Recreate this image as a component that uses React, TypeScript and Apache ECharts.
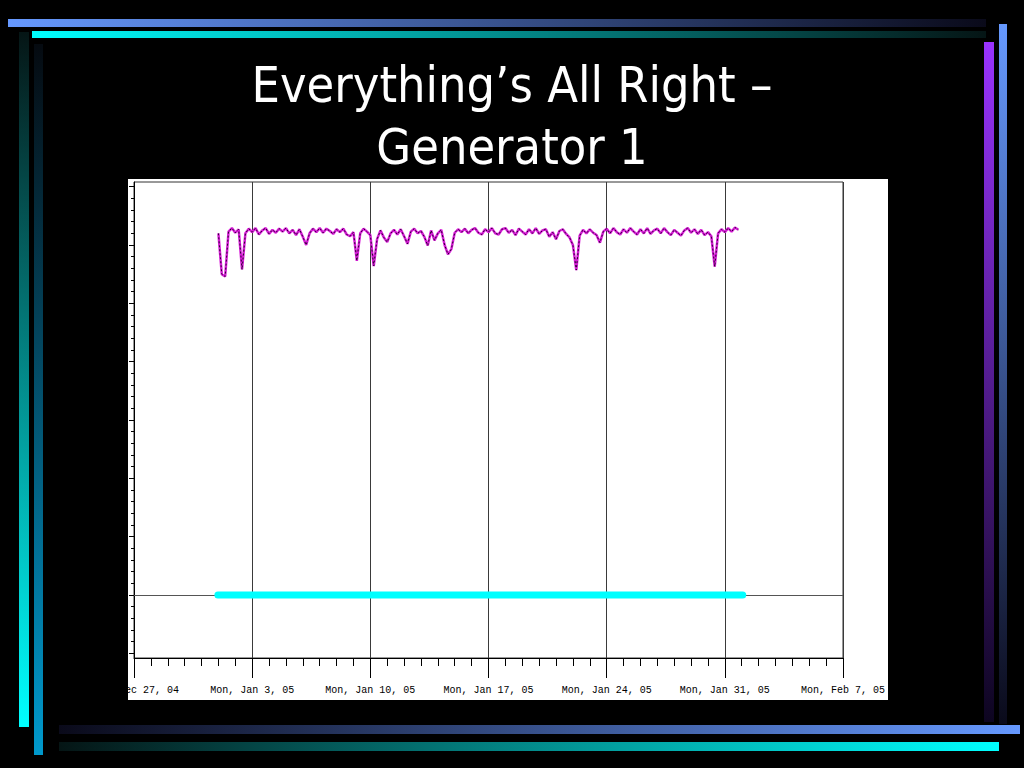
import React, { useEffect, useRef } from "react";
import * as echarts from "echarts";

// ---- data ----
const titleLines = ["Everything\u2019s All Right \u2013", "Generator 1"];
const weekLabels = [
  "Mon, Dec 27, 04",
  "Mon, Jan 3, 05",
  "Mon, Jan 10, 05",
  "Mon, Jan 17, 05",
  "Mon, Jan 24, 05",
  "Mon, Jan 31, 05",
  "Mon, Feb 7, 05",
];
// days since Mon Dec 27, 04
const genStartDay = 5.0;
const genStepDay = 0.2;
const genValues = [
  62.0, 55.0, 54.6, 62.3, 62.9, 62.1, 62.7, 55.8, 62.0, 62.8,
  62.2, 62.9, 61.8, 62.5, 62.9, 61.9, 62.6, 62.1, 62.8, 62.3,
  62.9, 62.0, 62.6, 61.7, 62.7, 61.4, 60.0, 62.0, 62.8, 62.2,
  62.9, 62.1, 62.8, 62.4, 61.9, 62.7, 62.2, 62.8, 61.8, 61.5,
  62.2, 57.3, 62.0, 62.8, 62.3, 61.7, 56.4, 61.0, 62.5, 61.3,
  60.5, 62.0, 62.6, 61.8, 62.7, 61.5, 60.2, 62.3, 62.8, 62.0,
  62.4, 61.4, 59.9, 62.5, 60.8, 62.0, 62.6, 60.0, 58.4, 59.3,
  62.1, 62.7, 62.2, 62.8, 62.0, 62.6, 62.9, 62.1, 61.8, 62.7,
  62.2, 62.9, 62.0, 61.8, 62.7, 62.9, 62.1, 62.6, 61.7, 62.8,
  62.3, 61.8, 62.7, 62.0, 62.9, 61.9, 62.5, 62.7, 61.4, 62.2,
  61.0, 62.4, 62.7, 61.9, 61.3, 60.0, 55.7, 61.6, 62.6, 62.0,
  62.7, 62.1, 61.7, 60.4, 62.3, 62.8, 62.0, 62.9, 62.2, 61.8,
  62.7, 62.1, 62.9, 62.3, 61.8, 62.7, 62.0, 62.9, 61.9, 62.5,
  62.8, 62.0, 62.9, 62.2, 61.7, 62.6, 62.1, 61.6, 62.5, 62.9,
  62.1, 62.7, 61.9, 62.6, 61.7, 62.2, 61.5, 56.3, 62.0, 62.7,
  62.2, 62.9, 62.3, 63.0, 62.6,
];
const baseDays = [4.97, 36.06];
const baseValues = [0, 0];

const xMin = 0;
const xMax = 42;
const xWeek = 7;

function bar(x: number, y: number, w: number, h: number, horiz: boolean, c0: string, c1: string) {
  return {
    type: "rect",
    shape: { x, y, width: w, height: h },
    style: {
      fill: new echarts.graphic.LinearGradient(0, 0, horiz ? 1 : 0, horiz ? 0 : 1, [
        { offset: 0, color: c0 },
        { offset: 1, color: c1 },
      ]),
    },
    silent: true,
    z: 0,
  };
}

export default function App() {
  const ref = useRef<HTMLDivElement>(null);
  useEffect(() => {
    if (!ref.current) return;
    const chart = echarts.init(ref.current, null, { renderer: "svg" });
    const genData = genValues.map((v, i) => [genStartDay + i * genStepDay, v]);
    const baseData = baseDays.map((d, i) => [d, baseValues[i]]);
    const titleFont = "'DejaVu Sans Condensed', 'DejaVu Sans', sans-serif";
    chart.setOption({
      animation: false,
      backgroundColor: "#000000",
      title: titleLines.map((t, i) => ({
        text: t,
        left: "center",
        top: 60 + i * 62,
        padding: 0,
        textStyle: { color: "#ffffff", fontSize: 50, fontWeight: "normal", fontFamily: titleFont },
      })),
      graphic: [
        { type: "rect", shape: { x: 128, y: 179, width: 760, height: 521 }, style: { fill: "#ffffff" }, silent: true, z: -10 },
        bar(8, 19, 978, 8, true, "#6699ff", "#0a0a1a"),
        bar(32, 31, 954, 7, true, "#00ffff", "#051515"),
        bar(19, 32, 10, 695, false, "#051515", "#00ffff"),
        bar(34, 44, 9, 711, false, "#050a10", "#0099cc"),
        bar(984, 42, 10, 680, false, "#9933ff", "#0d0520"),
        bar(999, 24, 8, 700, false, "#6699ff", "#0a0a1a"),
        bar(59, 725, 961, 9, true, "#0a0a1a", "#6699ff"),
        bar(59, 742, 940, 9, true, "#051515", "#00ffff"),
      ],
      grid: [
        { left: 134, right: 181, top: 182, bottom: 110, show: true, borderColor: "#333333", borderWidth: 1, backgroundColor: "transparent" },
        { left: 134, right: 181, top: 186.7, bottom: 114.7, show: false },
      ],
      xAxis: [
        {
          type: "value",
          gridIndex: 0,
          min: xMin,
          max: xMax,
          interval: xWeek,
          axisLine: { show: true, onZero: false, lineStyle: { color: "#000000", width: 1 } },
          axisTick: { show: true, length: 20, lineStyle: { color: "#000000" } },
          minorTick: { show: true, splitNumber: 7, length: 8, lineStyle: { color: "#000000" } },
          splitLine: { show: true, lineStyle: { color: "#3a3a3a", width: 1 } },
          minorSplitLine: { show: false },
          axisLabel: {
            margin: 27,
            color: "#000000",
            fontSize: 10,
            fontFamily: "'Liberation Mono', 'DejaVu Sans Mono', monospace",
            formatter: (v: number) => {
              const idx = Math.round(v / xWeek);
              return Math.abs(v - idx * xWeek) < 1e-6 ? weekLabels[idx] ?? "" : "";
            },
          },
        },
        { type: "value", gridIndex: 1, min: xMin, max: xMax, show: false },
      ],
      yAxis: [
        {
          type: "value",
          gridIndex: 0,
          min: -10.8,
          max: 70.8,
          axisLine: { show: true, onZero: false, lineStyle: { color: "#000000", width: 1 } },
          axisTick: { show: false },
          axisLabel: { show: false },
          splitLine: { show: false },
        },
        {
          type: "value",
          gridIndex: 1,
          min: -10,
          max: 70,
          interval: 10,
          axisLine: { show: false },
          axisTick: { show: true, length: 5, lineStyle: { color: "#000000" } },
          minorTick: { show: true, splitNumber: 5, length: 3, lineStyle: { color: "#000000" } },
          axisLabel: { show: false },
          splitLine: { show: false },
        },
      ],
      series: [
        {
          type: "line",
          xAxisIndex: 0,
          yAxisIndex: 0,
          data: baseData,
          showSymbol: false,
          lineStyle: { color: "#00ffff", width: 7, cap: "round" },
          z: 3,
          markLine: {
            silent: true,
            symbol: ["none", "none"],
            label: { show: false },
            lineStyle: { color: "#555555", width: 1, type: "solid" },
            data: [{ yAxis: 0 }],
            z: 2,
          },
        },
        {
          type: "line",
          xAxisIndex: 0,
          yAxisIndex: 0,
          data: genData,
          showSymbol: false,
          lineStyle: { color: "#d81ed8", width: 2.5 },
          z: 4,
        },
        {
          type: "line",
          xAxisIndex: 0,
          yAxisIndex: 0,
          data: genData,
          showSymbol: false,
          lineStyle: { color: "#1a0020", width: 1, type: [2, 2], opacity: 0.9 },
          z: 5,
        },
      ],
    });
    return () => chart.dispose();
  }, []);
  return (
    <div
      ref={ref}
      style={{ position: "fixed", left: 0, top: 0, width: 1024, height: 768, background: "#000" }}
    />
  );
}
